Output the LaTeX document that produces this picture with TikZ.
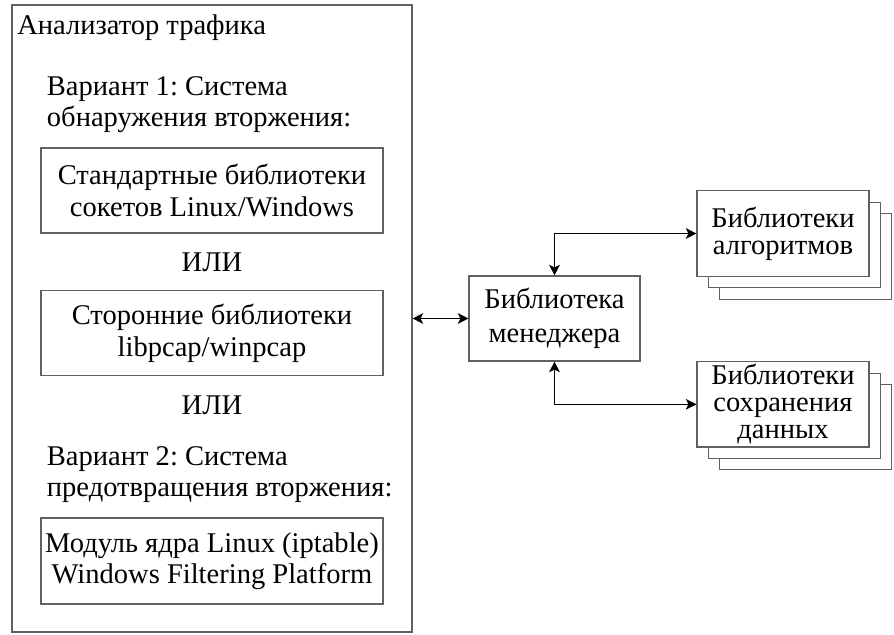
\documentclass[tikz,border=0pt]{standalone}
\usepackage{fontspec}
\setmainfont{Liberation Serif}
\usepackage{tikz}
\usetikzlibrary{arrows.meta,shadows}
\frenchspacing

\definecolor{boxgray}{RGB}{96,96,96}
\tikzset{
  box/.style={draw=boxgray,line width=0.8pt,fill=white,align=center,inner sep=0pt,
    font=\fontsize{21.4}{23.5}\selectfont},
  stackbox/.style={box,double copy shadow={shadow xshift=8.6pt,shadow yshift=-8.6pt,
    draw=boxgray,line width=0.8pt,fill=white}},
  txt/.style={inner sep=0pt,align=left,font=\fontsize{21.4}{23.5}\selectfont},
  link/.style={line width=1pt,{Stealth[length=8pt,width=8pt,inset=2pt]}-{Stealth[length=8pt,width=8pt,inset=2pt]}}
}

\begin{document}
\begin{tikzpicture}[x=0.75pt,y=0.75pt,yscale=-1,xscale=1]
\useasboundingbox (0,0) rectangle (894,635);

%Shape: Rectangle [analyzer]
\node[box,minimum width=300pt,minimum height=470.25pt] (analyzer) at (212,318.5) {};
% Text Node
\node[txt,anchor=base west] (title) at (17,35) {Анализатор трафика};

% Text Node
\node[txt,anchor=north west] (var1) at (46.7,76) {Вариант 1: Система\\обнаружения вторжения:};
%Shape: Rectangle [std]
\node[box,minimum width=256.5pt,minimum height=63.75pt] (std) at (212,190.5) {Стандартные библиотеки\\сокетов Linux/Windows};
% Text Node
\node[txt] (or1) at (212,262) {ИЛИ};
%Shape: Rectangle [pcap]
\node[box,minimum width=256.5pt,minimum height=63.75pt] (pcap) at (212,333.2) {Сторонние библиотеки\\libpcap/winpcap};
% Text Node
\node[txt] (or2) at (212,405) {ИЛИ};
% Text Node
\node[txt,anchor=north west] (var2) at (46.7,446) {Вариант 2: Система\\предотвращения вторжения:};
%Shape: Rectangle [kernel]
\node[box,minimum width=256.5pt,minimum height=64.5pt] (kernel) at (212,561) {Модуль ядра Linux (iptable)\\Windows Filtering Platform};

%Shape: Rectangle [manager]
\node[box,minimum width=128.25pt,minimum height=63.75pt,font=\fontsize{21.4}{25.2}\selectfont] (manager) at (554.5,318.5) {Библиотека\\менеджера};
%Shape: Stack [alg]
\node[stackbox,minimum width=129pt,minimum height=64pt,font=\fontsize{21.4}{20.3}\selectfont] (alg) at (783,233.5) {Библиотеки\\алгоритмов};
%Shape: Stack [store]
\node[stackbox,minimum width=129pt,minimum height=64pt,font=\fontsize{21.4}{20.3}\selectfont] (store) at (783,404.3) {Библиотеки\\сохранения\\данных};

%Straight Lines
\draw[link] (analyzer.east) -- (manager.west);
\draw[link] (manager.north) |- (alg.west);
\draw[link] (manager.south) |- (store.west);

\end{tikzpicture}
\end{document}
